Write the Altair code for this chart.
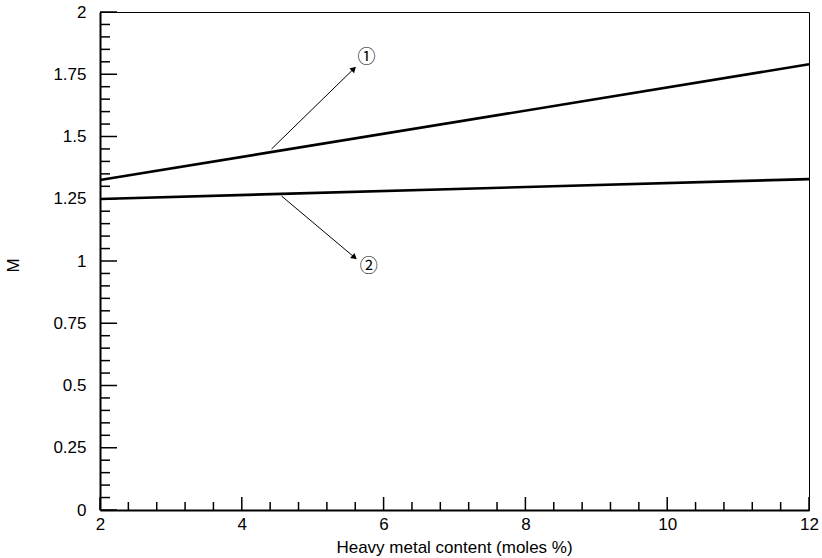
import altair as alt
import pandas as pd

# ---- data ----
x_vals = [2, 12]
line1_vals = [1.325, 1.79]
line2_vals = [1.249, 1.329]

x_major = [2, 4, 6, 8, 10, 12]
x_minor = [2.4, 2.8, 3.2, 3.6, 4.4, 4.8, 5.2, 5.6, 6.4, 6.8, 7.2, 7.6,
           8.4, 8.8, 9.2, 9.6, 10.4, 10.8, 11.2, 11.6]
y_major = [0, 0.25, 0.5, 0.75, 1, 1.25, 1.5, 1.75, 2]
y_minor = [0.05, 0.1, 0.15, 0.2, 0.3, 0.35, 0.4, 0.45, 0.55, 0.6, 0.65, 0.7,
           0.8, 0.85, 0.9, 0.95, 1.05, 1.1, 1.15, 1.2, 1.3, 1.35, 1.4, 1.45,
           1.55, 1.6, 1.65, 1.7, 1.8, 1.85, 1.9, 1.95]

# annotation arrows: start -> head
arrow_labels = ["①", "②"]
arrow_x0 = [4.42, 4.56]
arrow_y0 = [1.45, 1.261]
arrow_x1 = [5.58, 5.59]
arrow_y1 = [1.772, 1.0145]
arrow_angle = [46, 130]
label_x = [5.76, 5.79]
label_y = [1.815, 0.977]

FONT = "Liberation Sans"
W, H = 709, 498

xscale = alt.Scale(domain=[2, 12], nice=False, zero=False)
yscale = alt.Scale(domain=[0, 2], nice=False, zero=False)

xaxis = alt.Axis(values=x_major, title="Heavy metal content (moles %)",
                 ticks=False, labelPadding=6, domainWidth=2,
                 domainColor="black", grid=False, labelFontSize=17,
                 labelColor="black", titleFontSize=17,
                 titleFontWeight="normal", titleColor="black",
                 titleX=354, titleY=37, titleBaseline="middle",
                 labelFont=FONT, titleFont=FONT, labelFlush=False,
                 labelExpr="'' + datum.value")
yaxis = alt.Axis(values=y_major, title="M",
                 ticks=False, labelPadding=14, domainWidth=2,
                 domainColor="black", grid=False, labelFontSize=17,
                 labelColor="black", titleFontSize=17,
                 titleFontWeight="normal", titleColor="black",
                 titleX=-87, titleY=253, titleBaseline="middle",
                 titleAngle=-90, labelFont=FONT, titleFont=FONT,
                 labelFlush=False, labelExpr="'' + datum.value")

lines_df = pd.DataFrame({
    "x": x_vals * 2,
    "y": line1_vals + line2_vals,
    "series": ["1"] * 2 + ["2"] * 2,
})

lines = alt.Chart(lines_df).mark_line(color="black", strokeWidth=2.6).encode(
    x=alt.X("x:Q", scale=xscale, axis=xaxis),
    y=alt.Y("y:Q", scale=yscale, axis=yaxis),
    detail="series:N",
)

xmaj = alt.Chart(pd.DataFrame({"v": x_major})).mark_rule(color="black", strokeWidth=1.5).encode(
    x=alt.X("v:Q", scale=xscale, axis=xaxis), y=alt.value(H), y2=alt.value(H - 13))
xmin = alt.Chart(pd.DataFrame({"v": x_minor})).mark_rule(color="black", strokeWidth=1.5).encode(
    x=alt.X("v:Q", scale=xscale, axis=xaxis), y=alt.value(H), y2=alt.value(H - 8))
ymaj = alt.Chart(pd.DataFrame({"v": y_major})).mark_rule(color="black", strokeWidth=1.5).encode(
    y=alt.Y("v:Q", scale=yscale, axis=yaxis), x=alt.value(0), x2=alt.value(17))
ymin = alt.Chart(pd.DataFrame({"v": y_minor})).mark_rule(color="black", strokeWidth=1.5).encode(
    y=alt.Y("v:Q", scale=yscale, axis=yaxis), x=alt.value(0), x2=alt.value(10))

arr_df = pd.DataFrame({
    "x0": arrow_x0, "y0": arrow_y0, "x1": arrow_x1, "y1": arrow_y1,
    "angle": arrow_angle, "lx": label_x, "ly": label_y, "label": arrow_labels,
})

arrow_lines = alt.Chart(arr_df).mark_rule(color="black", strokeWidth=1).encode(
    x=alt.X("x0:Q", scale=xscale, axis=xaxis),
    y=alt.Y("y0:Q", scale=yscale, axis=yaxis),
    x2="x1:Q", y2="y1:Q")

arrow_heads = alt.Chart(arr_df).mark_point(
    shape="triangle-up", filled=True, color="black", size=45, opacity=1
).encode(
    x=alt.X("x1:Q", scale=xscale, axis=xaxis),
    y=alt.Y("y1:Q", scale=yscale, axis=yaxis),
    angle=alt.Angle("angle:Q", scale=None))

arrow_text = alt.Chart(arr_df).mark_text(
    fontSize=18, color="black", font="Noto Sans CJK SC, DejaVu Sans"
).encode(
    x=alt.X("lx:Q", scale=xscale, axis=xaxis),
    y=alt.Y("ly:Q", scale=yscale, axis=yaxis),
    text="label:N")

chart = alt.layer(lines, xmaj, xmin, ymaj, ymin, arrow_lines, arrow_heads, arrow_text).properties(
    width=W, height=H,
    background="white",
    autosize=alt.AutoSizeParams(type="none"),
    padding={"left": 100, "top": 12, "right": 13, "bottom": 48},
).configure_view(stroke="black", strokeWidth=1)

chart.save("out.html", embed_options={"renderer": "svg", "actions": False})
